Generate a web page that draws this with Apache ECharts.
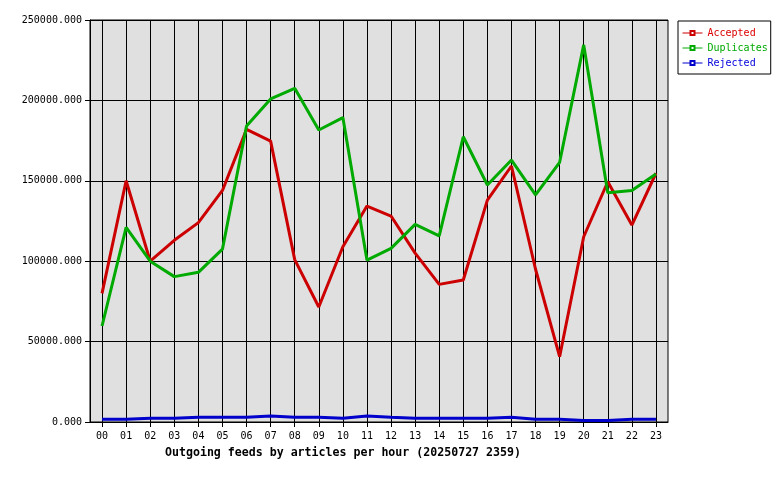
<!DOCTYPE html>
<html>
<head>
<meta charset="utf-8">
<script src="https://cdn.jsdelivr.net/npm/echarts@6/dist/echarts.min.js"></script>
<style>
html,body{margin:0;padding:0;background:#fff;}
#c{width:780px;height:480px;}
</style>
</head>
<body>
<div id="c"></div>
<script>
const hours = ['00','01','02','03','04','05','06','07','08','09','10','11','12','13','14','15','16','17','18','19','20','21','22','23'];
const accepted = [80000,150000,100000,113000,124000,144000,182000,174700,101000,71500,109000,134300,128100,105000,85600,88300,138000,159200,95000,40600,115200,149400,122500,154700];
const duplicates = [59700,121000,100000,90400,93100,107500,184100,200900,207500,181600,189300,100700,108000,122900,115700,177400,147400,162900,141200,161500,234500,142600,143900,154200];
const rejected = [1700,1700,2300,2300,2900,2900,2900,3700,2900,2900,2300,3700,2900,2300,2300,2300,2300,2900,1700,1700,1000,1000,1700,1700];
const yMax = 250000;
const yStep = 50000;
const titleText = 'Outgoing feeds by articles per hour (20250727 2359)';

const FONT = '"DejaVu Sans Mono", monospace';
const chart = echarts.init(document.getElementById('c'), null, {renderer:'canvas'});
const mk = (name, data, color) => ({
  name, type:'line', data, showSymbol:false, symbol:'emptyRect', animation:false,
  lineStyle:{color, width:3}, itemStyle:{color}
});
chart.setOption({
  animation:false,
  backgroundColor:'#ffffff',
  title:{text:titleText, left:160, top:442,
    textStyle:{fontFamily:FONT, fontSize:11.6, fontWeight:'bold', color:'#000'}},
  legend:{
    orient:'vertical', left:678, top:21,
    backgroundColor:'#fff', borderColor:'#000', borderWidth:1, borderRadius:0,
    padding:[7,3,6,4], itemWidth:20, itemHeight:5, itemGap:5,
    lineStyle:{width:1},
    textStyle:{fontFamily:FONT, fontSize:10},
    data:[
      {name:'Accepted', textStyle:{color:'#dd0000'}},
      {name:'Duplicates', textStyle:{color:'#00aa00'}},
      {name:'Rejected', textStyle:{color:'#0000dd'}}
    ]
  },
  grid:{left:90, top:20, width:578, height:402, show:true, backgroundColor:'#e0e0e0', borderColor:'#000', borderWidth:1, containLabel:false},
  xAxis:{
    type:'category', data:hours, boundaryGap:true,
    axisLine:{lineStyle:{color:'#000', width:1}},
    axisTick:{show:true, alignWithLabel:true, length:5, lineStyle:{color:'#000'}},
    axisLabel:{fontFamily:FONT, fontSize:10, color:'#000', margin:9, interval:0},
    splitLine:{show:true, alignWithLabel:true, lineStyle:{color:'#000', width:1}}
  },
  yAxis:{
    type:'value', min:0, max:yMax, interval:yStep,
    axisLine:{show:true, lineStyle:{color:'#000'}},
    axisTick:{show:true, length:5, lineStyle:{color:'#000'}},
    axisLabel:{fontFamily:FONT, fontSize:10, color:'#000', margin:8, formatter:v=>v.toFixed(3)},
    splitLine:{show:true, lineStyle:{color:'#000', width:1}}
  },
  series:[
    mk('Accepted', accepted, '#cc0000'),
    mk('Duplicates', duplicates, '#00aa00'),
    mk('Rejected', rejected, '#0000cc')
  ]
});
</script>
</body>
</html>
